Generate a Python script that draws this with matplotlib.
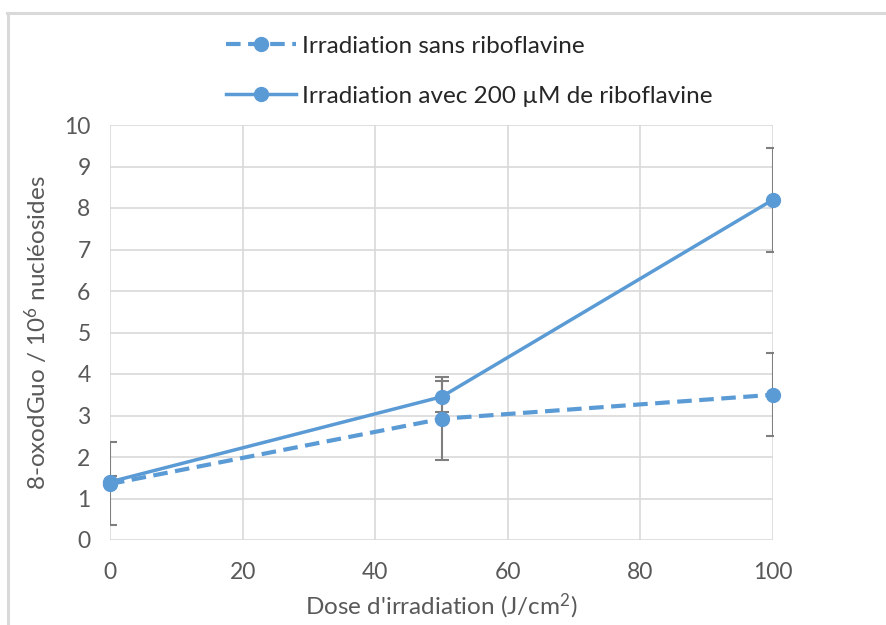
import matplotlib
matplotlib.use("Agg")
import matplotlib.pyplot as plt
from matplotlib.lines import Line2D

# doses (J/cm2) and 8-oxodGuo levels
dose = [0, 50, 100]
sans_ribo = [1.35, 2.92, 3.50]
sans_ribo_err = [1.0, 1.0, 1.0]
avec_ribo = [1.40, 3.45, 8.20]
avec_ribo_err = [0.15, 0.37, 1.25]

labels = ["Irradiation sans riboflavine", "Irradiation avec 200 µM de riboflavine"]
x_ticks = [0, 20, 40, 60, 80, 100]
y_ticks = list(range(0, 11))

blue = "#5b9bd5"
grey_txt = "#595959"
err_col = "#7f7f7f"

plt.rcParams["font.family"] = ["Lato", "DejaVu Sans"]
plt.rcParams["mathtext.fontset"] = "custom"
plt.rcParams["mathtext.rm"] = "Lato"
plt.rcParams["mathtext.it"] = "Lato"

fig = plt.figure(figsize=(8.87, 6.25), dpi=100)
ax = fig.add_axes([0.124, 0.136, 0.7475, 0.664])

# frame of the chart area (top and left edges)
fig.add_artist(Line2D([0.008, 1.0], [0.979, 0.979], color="#d9d9d9", lw=2.2, transform=fig.transFigure))
fig.add_artist(Line2D([0.009, 0.009], [0.0, 0.979], color="#d9d9d9", lw=2.2, transform=fig.transFigure))

ax.errorbar(dose, sans_ribo, yerr=sans_ribo_err, fmt="none", ecolor=err_col,
            elinewidth=1.5, capsize=5, capthick=1.5, zorder=2)
ax.errorbar(dose, avec_ribo, yerr=avec_ribo_err, fmt="none", ecolor=err_col,
            elinewidth=1.5, capsize=5, capthick=1.5, zorder=2)

ax.plot(dose, sans_ribo, color=blue, lw=3, dashes=(3.5, 1.8), marker="o",
        markersize=10, label=labels[0], zorder=3, clip_on=False)
ax.plot(dose, avec_ribo, color=blue, lw=2.5, marker="o",
        markersize=10, label=labels[1], zorder=3, clip_on=False)

ax.set_xlim(0, 100)
ax.set_ylim(0, 10)
ax.set_xticks(x_ticks)
ax.set_yticks(y_ticks)
ax.grid(True, color="#d9d9d9", lw=1.2)
ax.set_axisbelow(True)
for s in ax.spines.values():
    s.set_visible(False)
ax.tick_params(length=0, labelsize=16.5, labelcolor=grey_txt)
ax.tick_params(axis="x", pad=16)
ax.tick_params(axis="y", pad=14)

ax.set_xlabel("Dose d'irradiation (J/cm$^2$)", fontsize=17.5, color=grey_txt, labelpad=6)
ax.set_ylabel("8-oxodGuo / 10$^6$ nucléosides", fontsize=17.5, color=grey_txt, labelpad=10)

leg = ax.legend(loc="lower left", bbox_to_anchor=(0.16, 1.02), frameon=False,
                fontsize=17.5, labelspacing=1.2, handlelength=2.9, handletextpad=0.25,
                borderaxespad=0)
for t in leg.get_texts():
    t.set_color("#262626")

fig.savefig("out.png", dpi=100, facecolor="white")
